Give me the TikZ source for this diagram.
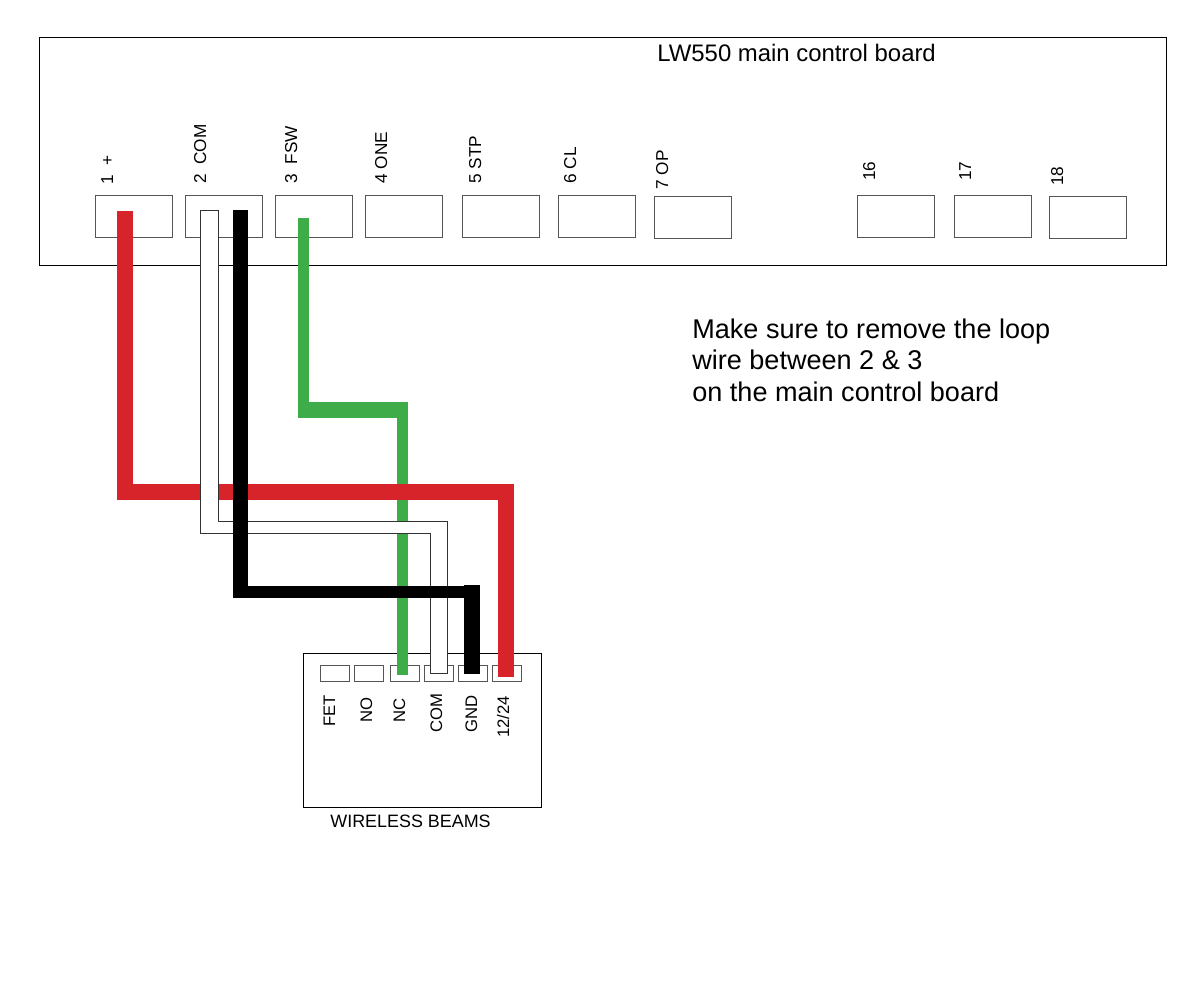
\documentclass[tikz,border=0pt]{standalone}
\usepackage{fontspec}
\setmainfont{Liberation Sans}
\definecolor{wirered}{RGB}{215,35,42}
\definecolor{wiregreen}{RGB}{62,172,73}
\definecolor{linegray}{RGB}{85,85,85}
\tikzset{
	terminal/.style={draw=linegray,line width=0.42pt,minimum width=1.54cm,minimum height=0.84cm,inner sep=0},
	pin/.style={draw=linegray,line width=0.42pt,minimum width=0.58cm,minimum height=0.32cm,inner sep=0},
	pinlabel/.style={rotate=90,anchor=base west,inner sep=0,font=\fontsize{9.8}{11}\selectfont},
	beamlabel/.style={rotate=90,anchor=base west,inner sep=0,font=\fontsize{9.5}{11}\selectfont},
	note/.style={anchor=base west,inner sep=0,font=\fontsize{15.4}{18}\selectfont},
	wire/.style={line join=miter,line cap=butt}
}
\begin{document}
\begin{tikzpicture}[x=0.02cm,y=-0.02cm]
				
				\useasboundingbox (0,0) rectangle (1200,1000);
				
				\node[draw,line width=0.42pt,minimum width=22.54cm,minimum height=4.56cm,inner sep=0] (board) at (602.5,151) {};
				\node[anchor=base west,inner sep=0,font=\fontsize{13.6}{16}\selectfont] (title) at (657,62) {LW550 main control board};
				
				\node[terminal] (T1) at (133.5,216) {};
				\node[terminal] (T2) at (223.5,216) {};
				\node[terminal] (T3) at (313.5,216) {};
				\node[terminal] (T4) at (403.5,216) {};
				\node[terminal] (T5) at (500.5,216) {};
				\node[terminal] (T6) at (597,216.5) {};
				\node[terminal] (T7) at (692.5,217.5) {};
				\node[terminal] (T16) at (895.5,216) {};
				\node[terminal] (T17) at (992.5,216.5) {};
				\node[terminal] (T18) at (1087.5,217.5) {};
				
				\node[pinlabel] (L1) at (113,185) {1\ \ +};
				\node[pinlabel] (L2) at (206,184) {2\ \ COM};
				\node[pinlabel] (L3) at (297,184) {3\ \ FSW};
				\node[pinlabel] (L4) at (387,184) {4 ONE};
				\node[pinlabel] (L5) at (481,184) {5 STP};
				\node[pinlabel] (L6) at (576,184) {6 CL};
				\node[pinlabel] (L7) at (668,190) {7 OP};
				\node[pinlabel] (L16) at (875,181) {16};
				\node[pinlabel] (L17) at (971,181) {17};
				\node[pinlabel] (L18) at (1063,186) {18};
				
				\node[note] (note1) at (692,338) {Make sure to remove the loop};
				\node[note] (note2) at (692,369) {wire between 2 \& 3};
				\node[note] (note3) at (692,401) {on the main control board};
				
				\node[draw,line width=0.42pt,minimum width=4.76cm,minimum height=3.08cm,inner sep=0] (beams) at (422,730) {};
				\node[anchor=base west,inner sep=0,font=\fontsize{10.2}{12}\selectfont] (beamsname) at (330,827) {WIRELESS BEAMS};
				
				\node[pin] (FET) at (334.5,673) {};
				\node[pin] (NO) at (368.5,673) {};
				\node[pin] (NC) at (404.5,673) {};
				\node[pin] (COM) at (438.5,673) {};
				\node[pin] (GND) at (472.5,673) {};
				\node[pin] (V12) at (506.5,673) {};
				
				\node[beamlabel] (LFET) at (335,727) {FET};
				\node[beamlabel] (LNO) at (372,723) {NO};
				\node[beamlabel] (LNC) at (405,723) {NC};
				\node[beamlabel] (LCOM) at (442,733) {COM};
				\node[beamlabel] (LGND) at (477,733) {GND};
				\node[beamlabel] (LV12) at (509,738) {12/24};
				
				% green wire
				\coordinate (G1) at (303.5,218);
				\coordinate (G2) at (303.5,410);
				\coordinate (G3) at (298,410);
				\coordinate (G4) at (408,410);
				\coordinate (G5) at (402.5,402);
				\coordinate (G6) at (402.5,675);
				\draw[wire,wiregreen,line width=0.22cm] (G1) -- (G2);
				\draw[wire,wiregreen,line width=0.31cm] (G3) -- (G4);
				\draw[wire,wiregreen,line width=0.22cm] (G5) -- (G6);
				
				% red wire
				\coordinate (R1) at (125,211);
				\coordinate (R2) at (125,492);
				\coordinate (R3) at (506,492);
				\coordinate (R4) at (506,677);
				\draw[wire,wirered,line width=0.32cm] (R1) -- (R2) -- (R3) -- (R4);
				
				% white wire
				\coordinate (W1) at (200,210);
				\coordinate (W2) at (218,210);
				\coordinate (W3) at (218,521);
				\coordinate (W4) at (447,521);
				\coordinate (W5) at (447,673);
				\coordinate (W6) at (430,673);
				\coordinate (W7) at (430,533);
				\coordinate (W8) at (200,533);
				\draw[wire,draw=black!80,fill=white,line width=0.42pt] (W1) -- (W2) -- (W3) -- (W4) -- (W5) -- (W6) -- (W7) -- (W8) -- cycle;
				
				% black wire
				\coordinate (B1) at (240.5,210);
				\coordinate (B2) at (240.5,592);
				\coordinate (B3) at (233,592);
				\coordinate (B4) at (480,592);
				\coordinate (B5) at (472,585);
				\coordinate (B6) at (472,674);
				\draw[wire,black,line width=0.30cm] (B1) -- (B2);
				\draw[wire,black,line width=0.24cm] (B3) -- (B4);
				\draw[wire,black,line width=0.32cm] (B5) -- (B6);
				
			\end{tikzpicture}
\end{document}
